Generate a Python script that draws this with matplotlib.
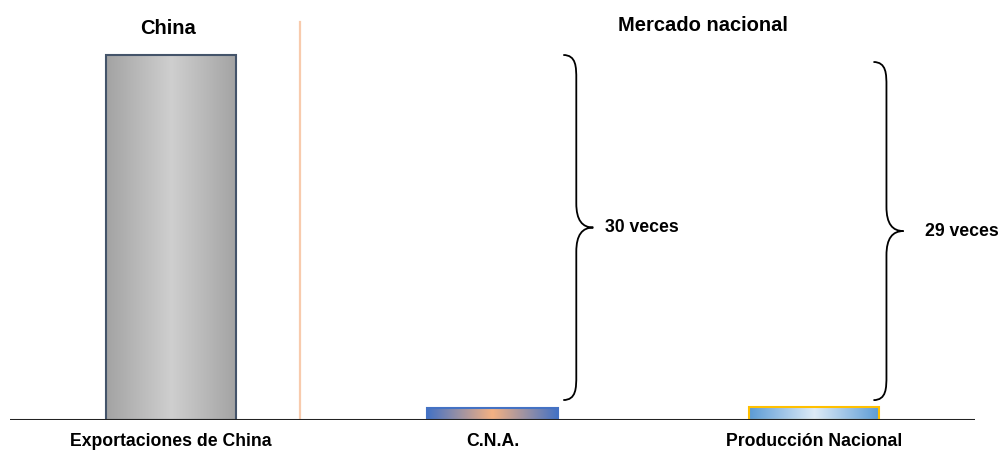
import numpy as np
import matplotlib
matplotlib.use("Agg")
import matplotlib.pyplot as plt
from matplotlib.path import Path
from matplotlib.patches import PathPatch, Rectangle
from matplotlib.colors import LinearSegmentedColormap

categories = ["Exportaciones de China", "C.N.A.", "Producción Nacional"]
values = [30.0, 1.0, 1.034]
group_titles = ["China", "Mercado nacional"]
ratio_labels = ["30 veces", "29 veces"]

plt.rcParams['font.family'] = ['Liberation Sans', 'DejaVu Sans']

fig = plt.figure(figsize=(10, 4.5), dpi=100)
ax = fig.add_axes([0.01, 30/450, 0.965, 410/450])
ymax = values[0] * 410 / 365
ax.set_xlim(-0.5, 2.5)
ax.set_ylim(0, ymax)

bar_w = 0.405
grads = [
    (["#a3a3a3", "#cfcfcf", "#a3a3a3"], "#44546a"),
    (["#4472c4", "#f4b183", "#4472c4"], "#4472c4"),
    (["#5b9bd5", "#deebf7", "#5b9bd5"], "#ffc000"),
]
bars = ax.bar(range(len(values)), values, width=bar_w, color="none", zorder=2)
for i, (b, (cols, ec)) in enumerate(zip(bars, grads)):
    x0, y0 = b.get_x(), b.get_y()
    w, h = b.get_width(), b.get_height()
    cmap = LinearSegmentedColormap.from_list(f"g{i}", cols)
    grad = np.linspace(0, 1, 256).reshape(1, -1)
    im = ax.imshow(grad, cmap=cmap, aspect="auto", extent=[x0, x0 + w, y0, y0 + h],
                   zorder=2, interpolation="bicubic")
    rect = Rectangle((x0, y0), w, h, facecolor="none", edgecolor=ec, lw=1.5, zorder=3)
    ax.add_patch(rect)
    im.set_clip_path(rect)

ax.set_xlim(-0.5, 2.5)
ax.set_ylim(0, ymax)

# baseline
ax.axhline(0, color="#222222", lw=2.2, zorder=4)
for s in ax.spines.values():
    s.set_visible(False)
ax.set_yticks([])
ax.set_xticks(range(len(categories)))
ax.set_xticklabels(categories, fontsize=12.7, fontweight="bold")
ax.tick_params(axis="x", length=0, pad=9)

# separator
ax.axvline(-0.5 + 290 / 321.5, ymin=2 / 410, ymax=398 / 410, color="#f8cbad", lw=1.6, zorder=1)

# group titles
ax.text(-0.008, ymax - 1.5, group_titles[0], ha="center", va="center", fontsize=14.5, fontweight="bold")
ax.text(1.655, ymax - 1.25, group_titles[1], ha="center", va="center", fontsize=14.5, fontweight="bold")


def brace(xs, ytop, ybot, r, dxl, dxt):
    ymid = (ytop + ybot) / 2
    xl = xs - dxl
    xt = xs + dxt
    verts = [
        (xl, ytop),
        (xs, ytop), (xs, ytop - r), (xs, ytop - 2 * r),
        (xs, ymid + 2 * r),
        (xs, ymid + 0.6 * r), (xs + 0.35 * dxt, ymid), (xt, ymid),
        (xs + 0.35 * dxt, ymid), (xs, ymid - 0.6 * r), (xs, ymid - 2 * r),
        (xs, ybot + 2 * r),
        (xs, ybot + r), (xs, ybot), (xl, ybot),
    ]
    codes = [Path.MOVETO,
             Path.CURVE4, Path.CURVE4, Path.CURVE4,
             Path.LINETO,
             Path.CURVE4, Path.CURVE4, Path.CURVE4,
             Path.CURVE4, Path.CURVE4, Path.CURVE4,
             Path.LINETO,
             Path.CURVE4, Path.CURVE4, Path.CURVE4]
    ax.add_patch(PathPatch(Path(verts, codes), facecolor="none", edgecolor="black", lw=1.3, zorder=5))
    return ymid

px = 1 / 321.5
ypx = values[0] / 365
m1 = brace(-0.5 + 566 * px, values[0], values[1] + 0.64, 1.0, 13 * px, 17 * px)
ax.text(-0.5 + 595 * px, m1, ratio_labels[0], ha="left", va="center", fontsize=12.7, fontweight="bold")
m2 = brace(-0.5 + 876 * px, values[0] - 7 * ypx, values[2] + 0.6, 1.0, 13 * px, 17 * px)
ax.text(-0.5 + 915 * px, m2, ratio_labels[1], ha="left", va="center", fontsize=12.7, fontweight="bold")

fig.savefig("out.png", dpi=100)
